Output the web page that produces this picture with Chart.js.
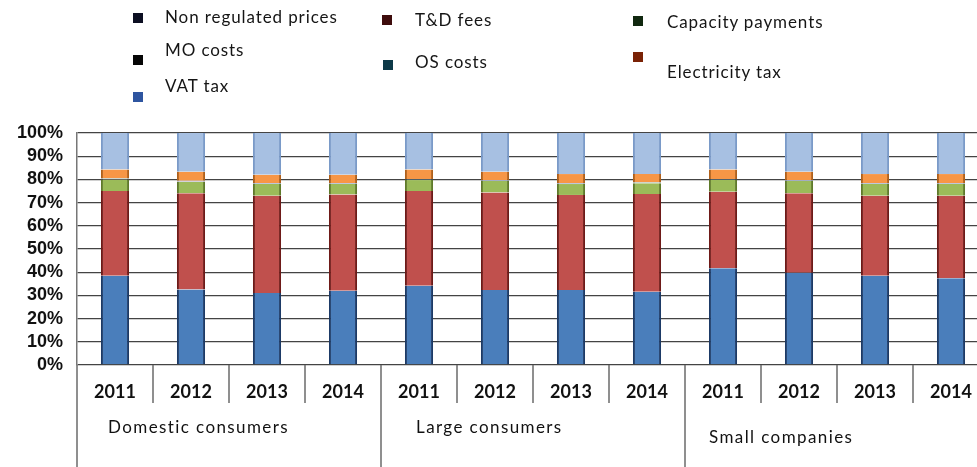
<!DOCTYPE html>
<html>
<head>
<meta charset="utf-8">
<script src="https://cdn.jsdelivr.net/npm/chart.js@4.4.1/dist/chart.umd.min.js"></script>
<style>
html, body { margin: 0; padding: 0; background: #fff; overflow: hidden; width: 977px; height: 467px; }
#wrap { position: absolute; left: 0; top: 0; width: 990px; height: 467px; }
.lg { position: absolute; font-family: Lato, sans-serif; font-size: 17px; color: #151515; letter-spacing: 0.9px; white-space: nowrap; line-height: 1; }
.sq { position: absolute; width: 10px; height: 10px; }
</style>
</head>
<body>
<div id="wrap"><canvas id="c" width="990" height="467"></canvas></div>
<script>
// categories
var years = ["2011", "2012", "2013", "2014", "2011", "2012", "2013", "2014", "2011", "2012", "2013", "2014"];
var groups = ["Domestic consumers", "Large consumers", "Small companies"];
var yTicks = [0, 10, 20, 30, 40, 50, 60, 70, 80, 90, 100];

// series (% of final price)
var seriesNames = ["Non regulated prices", "T&D fees", "Capacity payments", "MO costs", "OS costs", "Electricity tax", "VAT tax"];
var nonRegulated = [38.5, 32.5, 31.0, 32.0, 34.2, 32.3, 32.3, 31.6, 41.7, 39.8, 38.5, 37.4];
var tdFees       = [36.5, 41.5, 42.0, 41.5, 40.8, 42.1, 41.0, 42.1, 33.0, 34.2, 34.5, 35.6];
var capacity     = [5.0, 5.0, 5.0, 4.5, 4.7, 4.9, 4.7, 4.6, 5.0, 5.3, 5.0, 5.0];
var moCosts      = [0.2, 0.2, 0.2, 0.2, 0.2, 0.2, 0.2, 0.2, 0.2, 0.2, 0.2, 0.2];
var osCosts      = [0.2, 0.2, 0.2, 0.2, 0.2, 0.2, 0.2, 0.2, 0.2, 0.2, 0.2, 0.2];
var elecTax      = [3.9, 3.9, 3.6, 3.6, 4.2, 3.6, 3.9, 3.6, 4.2, 3.6, 3.9, 3.9];
var vatTax       = [15.7, 16.7, 18.0, 18.0, 15.7, 16.7, 17.7, 17.7, 15.7, 16.7, 17.7, 17.7];

var barColors    = ["#4a7ebb", "#c0504d", "#9bbb59", "#8064a2", "#4bacc6", "#f79646", "#a7c0e2"];
var barEdges     = ["#1c3a66", "#6e1a18", "#5f7a2a", "#4a3a66", "#2a6a7a", "#b0601a", "#7a9ac8"];
var legendColors = ["#0c0f22", "#3e0c0c", "#10280f", "#060606", "#0d3948", "#7a2206", "#2e55a0"];

// legend layout: [square x, square y, text x, text y]
var legendSpots = [
    [133, 13, 165, 8],
    [133, 55, 165, 41],
    [133, 92, 165, 77],
    [382, 15, 415, 11],
    [383, 60, 415, 53],
    [633, 16, 667, 13],
    [633, 52, 667, 63]
];
var legendOrder = [0, 3, 6, 1, 4, 2, 5];

var wrap = document.getElementById("wrap");
legendOrder.forEach(function(s, i) {
    var p = legendSpots[i];
    var sq = document.createElement("div"); sq.className = "sq";
    sq.style.left = p[0] + "px"; sq.style.top = p[1] + "px"; sq.style.background = legendColors[s];
    var tx = document.createElement("div"); tx.className = "lg";
    tx.style.left = p[2] + "px"; tx.style.top = p[3] + "px"; tx.textContent = seriesNames[s];
    wrap.appendChild(sq); wrap.appendChild(tx);
});

var seriesData = [nonRegulated, tdFees, capacity, moCosts, osCosts, elecTax, vatTax];
var datasets = seriesData.map(function(d, i) {
    return {
        label: seriesNames[i], data: d,
        backgroundColor: barColors[i], borderColor: barEdges[i],
        borderWidth: { left: 2, right: 2, top: 0, bottom: 0 }, borderSkipped: false,
        categoryPercentage: 1, barPercentage: 0.37
    };
});

// two-level category axis drawn under the plot
var xLabels = {
    id: "xLabels",
    afterDraw: function(chart) {
        var ctx = chart.ctx, x = chart.scales.x, area = chart.chartArea;
        var half = (x.getPixelForValue(1) - x.getPixelForValue(0)) / 2;
        ctx.save();
        ctx.strokeStyle = "#6a6a6a"; ctx.lineWidth = 1.5;
        ctx.fillStyle = "#111"; ctx.textBaseline = "middle";
        years.forEach(function(y, i) {
            var cx = x.getPixelForValue(i);
            ctx.font = "bold 18px Lato, sans-serif"; ctx.textAlign = "center";
            ctx.fillText(y, cx, area.bottom + 27);
            var left = cx - half;
            ctx.beginPath();
            ctx.moveTo(left, area.bottom);
            ctx.lineTo(left, i % 4 === 0 ? chart.height : area.bottom + 38);
            ctx.stroke();
        });
        var shift = [[31, 63], [35, 63], [24, 73]];
        ctx.font = "17px Lato, sans-serif"; ctx.textAlign = "left";
        ctx.letterSpacing = "1.4px";
        groups.forEach(function(g, k) {
            var left = x.getPixelForValue(k * 4) - half;
            ctx.fillText(g, left + shift[k][0], area.bottom + shift[k][1]);
        });
        ctx.restore();
    }
};

new Chart(document.getElementById("c"), {
    type: "bar",
    data: { labels: years, datasets: datasets },
    plugins: [xLabels],
    options: {
        responsive: false,
        animation: false,
        devicePixelRatio: 1,
        layout: { padding: { top: 133, bottom: 102, left: 0, right: 1 } },
        plugins: { legend: { display: false }, tooltip: { enabled: false } },
        scales: {
            x: { stacked: true, display: false },
            y: {
                stacked: true, min: 0, max: 100,
                afterFit: function(scale) { scale.width = 77; },
                afterBuildTicks: function(scale) { scale.ticks = yTicks.map(function(v) { return { value: v }; }); },
                ticks: {
                    autoSkip: false, padding: 14, color: "#111",
                    font: { family: "'Liberation Sans', Arial, sans-serif", size: 18, weight: "bold" },
                    callback: function(v) { return v + "%"; }
                },
                grid: { color: "#444", lineWidth: 1.3, drawTicks: false },
                border: { display: true, color: "#777", width: 1.5 }
            }
        }
    }
});
</script>
</body>
</html>
